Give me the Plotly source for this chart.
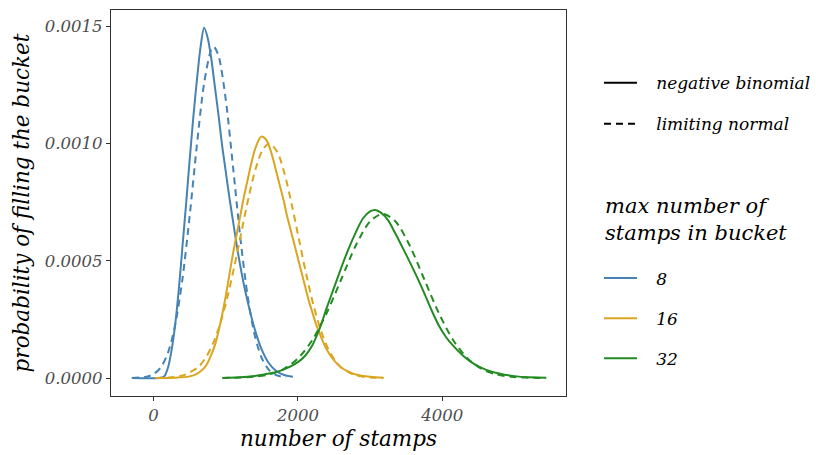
import plotly.graph_objects as go

# ---- data ----
# bucket of 8: negative binomial (solid) and limiting normal (dashed)
nb8_x = [-301, 100, 150, 200, 250, 300, 350, 400, 450, 500, 550, 600, 650, 700, 750, 800, 850, 900, 950, 1000, 1050, 1100, 1150, 1200, 1250, 1300, 1400, 1500, 1600, 1700, 1800, 1930]
nb8_y = [0, 0.000001, 0.000008, 0.000045, 0.00012, 0.00023, 0.00038, 0.00056, 0.00074, 0.00093, 0.00111, 0.00127, 0.00141, 0.001493, 0.00145, 0.00136, 0.00124, 0.00112, 0.00099, 0.00088, 0.00077, 0.00067, 0.00057, 0.00048, 0.0004, 0.00033, 0.00021, 0.00012, 0.000062, 0.00003, 0.000014, 0.000005]

nm8_x = [-301, -100, 0, 100, 200, 300, 400, 500, 600, 700, 800, 835, 900, 1000, 1100, 1200, 1300, 1400, 1500, 1600, 1700, 1837]
nm8_y = [0.0000004, 0.0000053, 0.0000167, 0.000045, 0.000108, 0.000228, 0.000422, 0.000691, 0.000993, 0.001257, 0.001401, 0.001412, 0.001374, 0.001187, 0.000902, 0.000603, 0.000356, 0.000184, 0.0000842, 0.0000339, 0.000012, 0.0000023]

# bucket of 16
nb16_x = [24, 300, 500, 600, 700, 750, 800, 850, 900, 950, 1000, 1050, 1100, 1150, 1200, 1250, 1300, 1350, 1400, 1450, 1490, 1550, 1600, 1650, 1700, 1750, 1800, 1850, 1900, 1950, 2000, 2050, 2100, 2150, 2200, 2250, 2300, 2400, 2500, 2600, 2700, 2800, 3000, 3185]
nb16_y = [0, 0.000001, 0.000007, 0.000018, 0.000042, 0.000065, 0.0001, 0.00014, 0.0002, 0.00027, 0.00035, 0.00044, 0.00053, 0.00061, 0.00069, 0.00077, 0.00084, 0.00091, 0.00097, 0.00101, 0.001029, 0.00102, 0.00099, 0.00094, 0.00088, 0.00082, 0.00076, 0.00069, 0.00063, 0.00057, 0.00051, 0.00045, 0.00039, 0.00033, 0.00028, 0.00023, 0.00019, 0.00012, 0.000075, 0.000045, 0.000027, 0.000015, 0.000005, 0.000001]

nm16_x = [24, 215, 415, 615, 715, 815, 915, 1015, 1115, 1215, 1315, 1415, 1515, 1605, 1715, 1815, 1915, 2015, 2115, 2215, 2315, 2415, 2515, 2615, 2815, 3015, 3185]
nm16_y = [0.0000005, 0.0000023, 0.0000118, 0.000046, 0.000083, 0.000141, 0.000224, 0.000335, 0.00047, 0.00062, 0.000768, 0.000893, 0.000975, 0.001, 0.000963, 0.000871, 0.000739, 0.00059, 0.000442, 0.000311, 0.000205, 0.000127, 0.000074, 0.0000407, 0.00001, 0.000002, 0.0000005]

# bucket of 32
nb32_x = [954, 1200, 1400, 1600, 1800, 2000, 2100, 2200, 2300, 2400, 2500, 2600, 2700, 2800, 2900, 3000, 3068, 3150, 3250, 3350, 3450, 3550, 3650, 3750, 3850, 3950, 4050, 4150, 4300, 4450, 4600, 4800, 5000, 5200, 5439]
nb32_y = [0, 0.000003, 0.000009, 0.000019, 0.000036, 0.000068, 0.000095, 0.00014, 0.00021, 0.0003, 0.000385, 0.00047, 0.00055, 0.00062, 0.00068, 0.00071, 0.000716, 0.000705, 0.000672, 0.000616, 0.000556, 0.000494, 0.00043, 0.000362, 0.00029, 0.000225, 0.000175, 0.000138, 0.000092, 0.000058, 0.000036, 0.000018, 0.000008, 0.000003, 0.000001]

nm32_x = [954, 1200, 1400, 1600, 1800, 2000, 2200, 2400, 2600, 2800, 3000, 3175, 3350, 3550, 3750, 3950, 4150, 4350, 4550, 4750, 4950, 5150, 5439]
nm32_y = [0.0000004, 0.0000017, 0.0000055, 0.0000154, 0.000038, 0.0000837, 0.000162, 0.000278, 0.000421, 0.000564, 0.000668, 0.0007, 0.000668, 0.000564, 0.000421, 0.000278, 0.000162, 0.0000837, 0.000038, 0.0000154, 0.0000055, 0.0000017, 0.0000003]

bucket_labels = ["8", "16", "32"]
linetype_labels = ["negative binomial", "limiting normal"]
colors = ["#4682B4", "#DAA520", "#228B22"]
x_ticks = [0, 2000, 4000]
y_ticks = [0, 0.0005, 0.0010, 0.0015]
y_ticktext = ["0.0000", "0.0005", "0.0010", "0.0015"]
legend_title = "max number of<br>stamps in bucket"

FONT = "DejaVu Serif"
DASH = "7px,5px"
LW = 2
PAD = "\u00a0\u00a0\u2009"

series = [
    (nb8_x, nb8_y, nm8_x, nm8_y),
    (nb16_x, nb16_y, nm16_x, nm16_y),
    (nb32_x, nb32_y, nm32_x, nm32_y),
]

fig = go.Figure()
for (bx, by, mx, my), col in zip(series, colors):
    fig.add_trace(go.Scatter(x=mx, y=my, mode="lines", showlegend=False,
                             line=dict(color=col, width=LW, dash=DASH, shape="spline", smoothing=0.8)))
    fig.add_trace(go.Scatter(x=bx, y=by, mode="lines", showlegend=False,
                             line=dict(color=col, width=LW, shape="spline", smoothing=0.8)))

# legend 1: line types
fig.add_trace(go.Scatter(x=[None], y=[None], mode="lines", name=PAD + linetype_labels[0],
                         legend="legend", legendgroup="a",
                         line=dict(color="black", width=LW)))
fig.add_trace(go.Scatter(x=[None], y=[None], mode="lines", name=PAD + linetype_labels[1],
                         legend="legend", legendgroup="b",
                         line=dict(color="black", width=LW, dash="7px,5px")))
# legend 2: bucket sizes
for lab, col in zip(bucket_labels, colors):
    fig.add_trace(go.Scatter(x=[None], y=[None], mode="lines", name=PAD + lab,
                             legend="legend2", legendgroup="g" + lab,
                             line=dict(color=col, width=LW)))

legfont = dict(family=FONT, size=17, color="black", style="italic")
fig.update_layout(
    width=816, height=455,
    margin=dict(l=111, r=250, t=10, b=59, autoexpand=False),
    paper_bgcolor="white", plot_bgcolor="white",
    font=dict(family=FONT, style="italic"),
    legend=dict(x=1.0725, y=0.857, xanchor="left", yanchor="top", font=legfont,
                tracegroupgap=16, bgcolor="rgba(0,0,0,0)", itemwidth=33),
    legend2=dict(x=1.0725, y=0.351, xanchor="left", yanchor="top", font=legfont,
                 tracegroupgap=15, bgcolor="rgba(0,0,0,0)", itemwidth=33),
    annotations=[dict(text=legend_title, xref="paper", yref="paper",
                      x=1.0813, y=0.456, xanchor="left", yanchor="middle",
                      align="left", showarrow=False,
                      font=dict(family=FONT, size=21, color="black", style="italic"))],
    xaxis=dict(range=[-590, 5714], tickvals=x_ticks, ticktext=[str(v) for v in x_ticks],
               showgrid=False, zeroline=False, showline=True, mirror=True,
               linecolor="#333333", linewidth=1.3, ticks="outside", ticklen=4,
               tickcolor="#333333", tickwidth=1.3,
               tickfont=dict(family=FONT, size=16.5, color="#4D4D4D", style="italic"),
               title=dict(text="number of stamps", standoff=6,
                          font=dict(family=FONT, size=21.5, color="black", style="italic"))),
    yaxis=dict(range=[-0.0000767, 0.001569], tickvals=y_ticks, ticktext=y_ticktext,
               showgrid=False, zeroline=False, showline=True, mirror=True,
               linecolor="#333333", linewidth=1.3, ticks="outside", ticklen=4,
               tickcolor="#333333", tickwidth=1.3,
               tickfont=dict(family=FONT, size=16.5, color="#4D4D4D", style="italic"),
               title=dict(text="probability of filling the bucket", standoff=9,
                          font=dict(family=FONT, size=21.5, color="black", style="italic"))),
)

fig.write_html("out.html")
